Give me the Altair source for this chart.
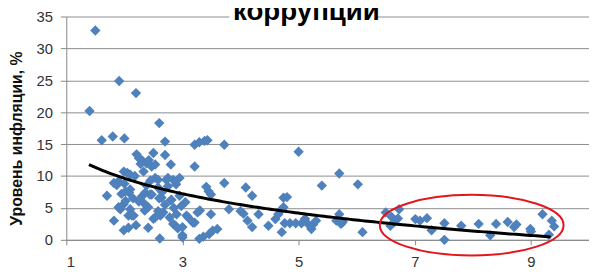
import altair as alt
import pandas as pd

# ---- data ----
x_vals = [
    1.40, 1.50, 1.91, 2.20, 2.60,
    1.61, 1.80, 2.00, 2.70,
    2.21, 2.30, 2.38, 2.47, 2.33, 2.50, 2.53, 2.70, 2.80,
    1.99, 2.10, 2.05, 1.82, 1.90, 2.00,
    1.70, 1.95, 2.02, 2.08, 2.15,
    1.90, 2.10, 2.07, 1.82, 1.99, 2.07, 2.41, 2.61,
    2.50, 2.67, 2.84, 2.33, 2.44, 2.58, 2.53, 2.75, 2.89, 2.95, 2.80,
    2.25, 2.30, 2.38, 2.45, 2.60, 2.65, 2.70, 2.85, 2.90, 2.78, 2.62, 2.35, 2.20,
    2.88, 2.92, 3.00, 2.72, 2.64, 2.10, 1.99, 1.93, 2.13, 2.41, 2.58, 2.53,
    2.25, 2.28, 2.42, 2.18, 2.36, 2.47, 2.81, 2.75, 2.84, 2.58, 1.87, 2.02, 2.16,
    3.07, 3.18,
    3.21, 3.29, 3.38, 3.43, 3.72, 3.21, 2.95, 3.72, 3.41, 3.49, 3.45, 4.09, 4.20, 4.74,
    2.98, 3.26, 3.30, 3.49, 3.80, 4.00, 4.05, 4.31, 4.12, 4.20, 3.21, 3.00, 3.00,
    3.29, 3.36, 3.46, 3.52, 3.60, 4.48, 4.60, 4.65, 4.71, 4.71, 3.10, 3.05,
    5.00, 4.80, 5.40, 5.70, 6.02, 4.74, 4.76, 4.85, 4.95, 5.05, 5.15, 5.25, 5.11, 5.22,
    5.30, 5.70, 5.73, 5.65, 5.76, 6.10,
    6.50, 6.58, 6.60, 6.73, 6.71, 6.65, 7.01, 7.09, 7.21, 7.29, 7.51, 7.51, 7.80, 8.10,
    8.30, 8.40, 8.60, 8.71, 8.75, 8.99, 9.00, 9.20, 9.36, 9.40, 9.31,
]
y_vals = [
    20.2, 32.8, 24.9, 23.0, 18.3,
    15.6, 16.2, 15.9, 15.4,
    13.4, 12.5, 12.0, 11.5, 10.7, 13.6, 11.8, 13.3, 11.8,
    10.7, 10.2, 10.5, 8.9, 9.2, 8.8,
    6.9, 7.2, 7.6, 7.4, 6.5,
    5.1, 4.8, 3.8, 3.0, 1.5, 1.9, 1.9, 0.2,
    3.3, 4.3, 2.5, 5.8, 7.1, 8.2, 9.7, 9.7, 8.7, 6.9, 6.2,
    6.0, 6.8, 8.5, 9.3, 6.5, 7.5, 5.5, 5.0, 4.0, 3.5, 3.8, 4.6, 2.3,
    2.2, 1.8, 0.7, 9.4, 6.6, 7.9, 5.6, 4.8, 3.8, 5.1, 4.5, 3.5,
    12.8, 11.9, 12.5, 10.0, 7.4, 7.1, 6.3, 8.4, 9.4, 9.4, 8.6, 6.1, 3.8,
    3.8, 2.7,
    14.9, 15.3, 15.5, 15.6, 14.9, 11.5, 9.7, 8.9, 8.3, 7.1, 7.6, 8.2, 6.9, 6.6,
    5.3, 4.3, 4.6, 4.0, 4.8, 4.5, 4.1, 4.0, 3.0, 2.0, 2.7, 2.0, 0.4,
    0.15, 0.5, 0.9, 1.45, 1.7, 2.2, 3.25, 4.0, 4.8, 1.2, 3.5, 5.9,
    13.8, 6.7, 8.5, 10.4, 8.7, 5.1, 2.6, 2.6, 2.6, 2.6, 2.6, 2.4, 3.3, 1.7,
    3.0, 4.0, 2.5, 3.0, 2.8, 1.2,
    4.3, 2.2, 3.6, 4.8, 3.35, 2.8, 3.25, 3.0, 3.4, 1.5, 2.6, 0.0, 2.2, 2.5,
    0.7, 2.5, 2.8, 2.0, 2.4, 1.7, 1.3, 4.0, 3.0, 2.1, 0.8,
]
# logarithmic trend line as drawn in the reference: y = a + b*ln(x), over its extent
trend_a = 13.76
trend_b = -5.95
trend_extent = [1.39, 9.36]

title_text = ["коррупции"]
y_title = "Уровень инфляции, %"
x_ticks = [1, 3, 5, 7, 9]
y_ticks = [0, 5, 10, 15, 20, 25, 30, 35]
ellipse_x = [7.98]
ellipse_y = [2.3]

df = pd.DataFrame({"x": x_vals, "y": y_vals})
ell_df = pd.DataFrame({"x": ellipse_x, "y": ellipse_y})
title_df = pd.DataFrame({"t": title_text})

FONT = "Liberation Sans"
AXIS_GRAY = "#868686"
xscale = alt.Scale(domain=[1, 10], nice=False, zero=False)
yscale = alt.Scale(domain=[0, 35], nice=False, zero=False)

xaxis = alt.Axis(values=x_ticks, format="d", grid=False, title=None, domain=True,
                 domainColor=AXIS_GRAY, domainWidth=1, ticks=True,
                 tickColor=AXIS_GRAY, tickSize=5, labelFontSize=15, labelColor="#333333",
                 labelFont=FONT, labelPadding=10, labelOverlap=False)
yaxis = alt.Axis(values=y_ticks, format="d", grid=True, gridColor="#8c8c8c",
                 domain=True, domainColor=AXIS_GRAY, domainWidth=1, ticks=True,
                 tickColor=AXIS_GRAY, tickSize=6, labelFontSize=15, labelColor="#333333",
                 labelFont=FONT, labelPadding=8, labelOverlap=False,
                 title=y_title, titleFont=FONT,
                 titleFontSize=16, titleFontWeight="bold", titleColor="#111111",
                 titleX=-50, titleY=123, titleAngle=270, titleAlign="center",
                 titleBaseline="middle")

X = alt.X("x:Q", scale=xscale, axis=xaxis)
Y = alt.Y("y:Q", scale=yscale, axis=yaxis)

pts = alt.Chart(df).mark_point(shape="diamond", filled=True, size=110, color="#4F81BD",
                               opacity=1).encode(x=X, y=Y)

trend = alt.Chart(
    alt.sequence(trend_extent[0], trend_extent[1] + 0.001, 0.05, as_="x")
).transform_calculate(
    y=f"{trend_a} + ({trend_b}) * log(datum.x)"
).mark_line(color="black", strokeWidth=3).encode(x=X, y=Y)

ell = alt.Chart(ell_df).mark_point(
    shape="M-1,0A1,0.33,0,1,1,1,0A1,0.33,0,1,1,-1,0Z", filled=False, size=34596,
    stroke="#E3141B", strokeWidth=2, opacity=1).encode(x=X, y=Y)

bg = alt.Chart(title_df).mark_rect(color="white").encode(
    x=alt.value(165), x2=alt.value(315), y=alt.value(-10), y2=alt.value(2))
ttl = alt.Chart(title_df).mark_text(font=FONT, fontSize=28, fontWeight="bold",
                                    baseline="alphabetic", align="center",
                                    color="black").encode(
    x=alt.value(243), y=alt.value(4), text="t:N")

chart = alt.layer(pts, trend, ell, bg, ttl).properties(
    width=529, height=226,
    autosize=alt.AutoSizeParams(type="none"),
    padding={"left": 59, "top": 7, "right": 0, "bottom": 36},
).configure_view(stroke=None)

chart.save("out.html", embed_options={"renderer": "svg", "actions": False})
